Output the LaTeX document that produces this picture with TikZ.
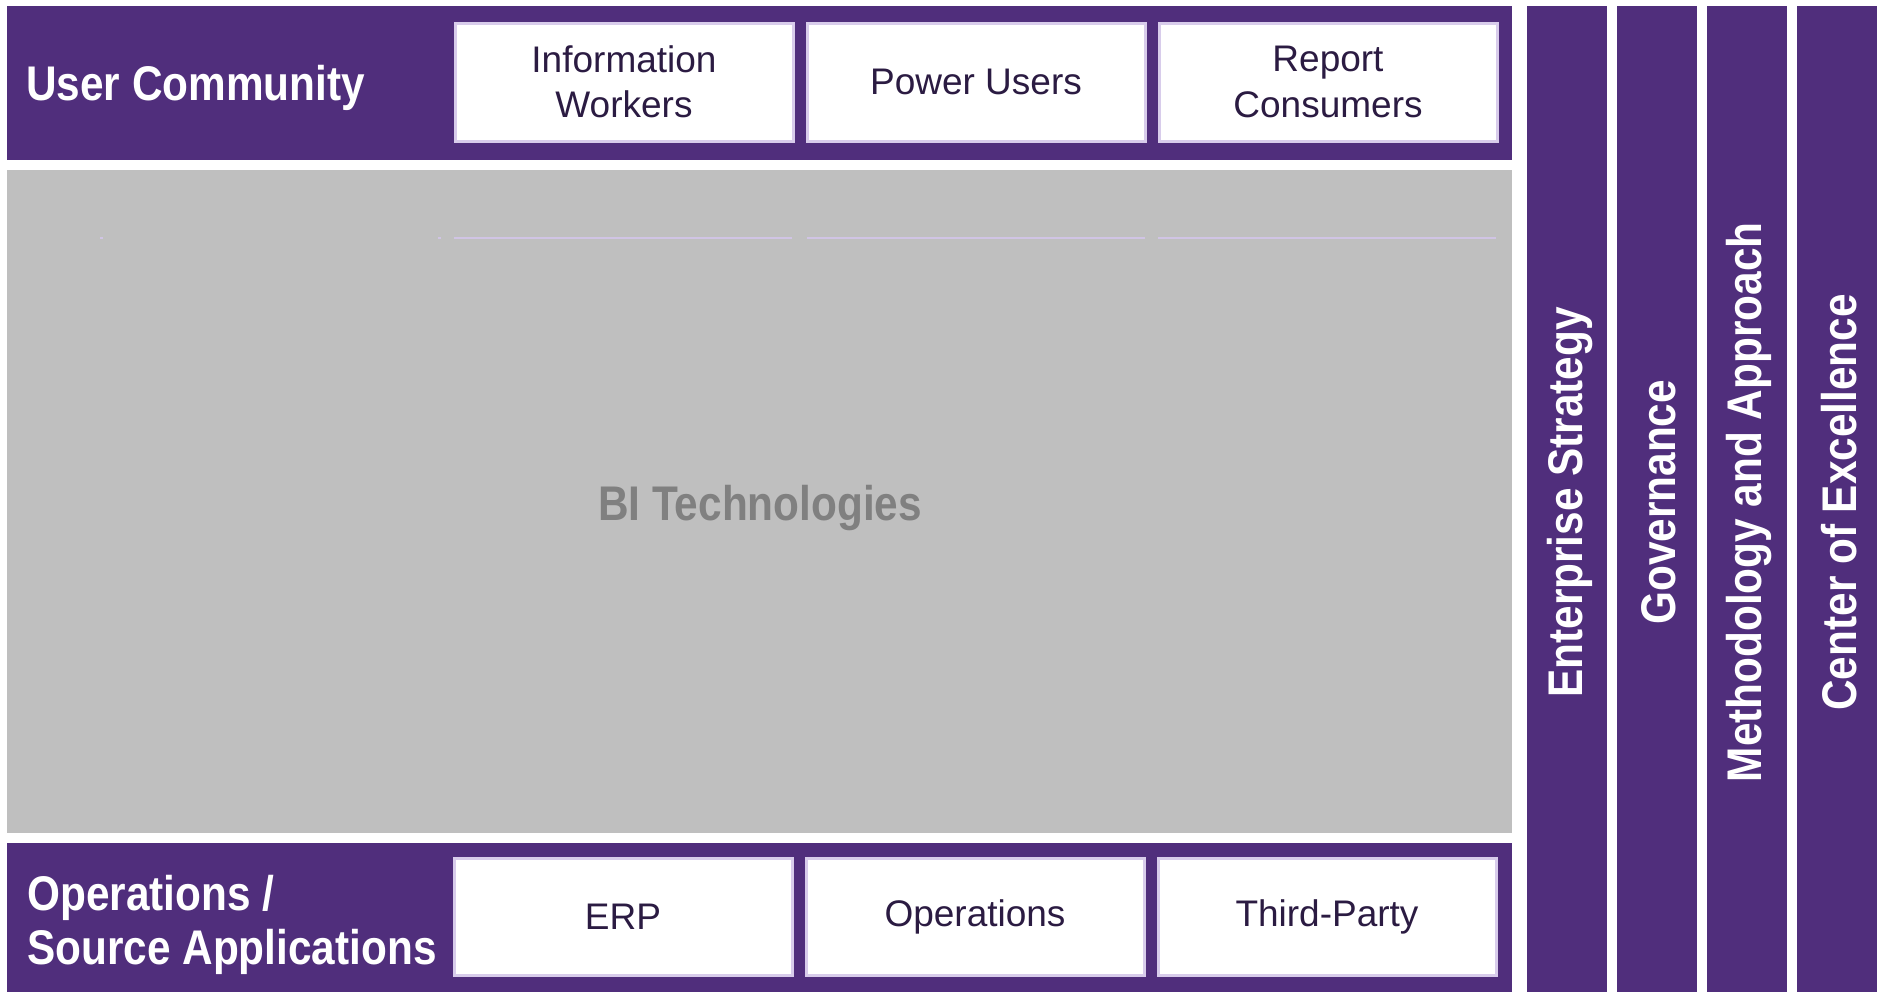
\documentclass[tikz,border=0pt]{standalone}
\usepackage{fontspec}
\setmainfont{Liberation Sans}
\newfontfamily\headfont[FakeStretch=0.87]{Liberation Sans Bold}
\definecolor{gtpurple}{RGB}{80,46,124}
\definecolor{bigray}{RGB}{191,191,191}
\definecolor{bitext}{RGB}{128,128,128}
\definecolor{boxline}{RGB}{216,204,235}
\definecolor{boxtext}{RGB}{43,27,66}
\definecolor{hairline}{RGB}{208,196,228}
\begin{document}
\begin{tikzpicture}[x=0.75pt,y=-0.75pt,
  band/.style={fill=gtpurple,draw=none,inner sep=0pt,outer sep=0pt,anchor=north west,minimum width=1128.75pt},
  pillar/.style={fill=gtpurple,draw=none,inner sep=0pt,outer sep=0pt,anchor=north west,minimum width=60pt,minimum height=739.5pt},
  userbox/.style={fill=white,draw=boxline,line width=2.25pt,inner sep=0pt,outer sep=0pt,anchor=north west,minimum width=253.5pt,minimum height=88.5pt,align=center,text=boxtext,font=\fontsize{27.75}{34}\selectfont},
  srcbox/.style={userbox,minimum height=87.75pt},
  headtext/.style={text=white,inner sep=0pt,anchor=west,align=left,font=\headfont\fontsize{36.5}{40}\selectfont},
  pillartext/.style={text=white,inner sep=0pt,rotate=90,font=\headfont\fontsize{36.5}{40}\selectfont},
  hair/.style={draw=hairline,line width=1.2pt}
]
\useasboundingbox (0,0) rectangle (1883,992);
\fill[white] (0,0) rectangle (1883,992);

% bands
\node[band,minimum height=115.5pt] (top) at (7,6) {};
\node[fill=bigray,draw=none,inner sep=0pt,outer sep=0pt,anchor=north west,minimum width=1128.75pt,minimum height=497.25pt] (gray) at (7,170) {};
\node[band,minimum height=111.75pt] (bottom) at (7,843) {};

% faint remnant lines in the gray area
\coordinate (h1a) at (454,238); \coordinate (h1b) at (792,238);
\coordinate (h2a) at (807,238); \coordinate (h2b) at (1145,238);
\coordinate (h3a) at (1158,238); \coordinate (h3b) at (1496,238);
\coordinate (d1a) at (100,238); \coordinate (d1b) at (103,238);
\coordinate (d2a) at (438,238); \coordinate (d2b) at (441,238);
\draw[hair] (h1a) -- (h1b);
\draw[hair] (h2a) -- (h2b);
\draw[hair] (h3a) -- (h3b);
\draw[hair] (d1a) -- (d1b);
\draw[hair] (d2a) -- (d2b);

% labels
\node[headtext] (uc) at (26,88) {User Community};
\node[headtext] (ops) at (27,925) {Operations /\\Source Applications};
\node[text=bitext,inner sep=0pt,font=\headfont\fontsize{36.5}{40}\selectfont] (bi) at (760,508) {BI Technologies};

% user boxes
\node[userbox] (iw) at (455,23) {Information\\Workers};
\node[userbox] (pu) at (807,23) {Power Users};
\node[userbox] (rc) at (1159,23) {Report\\Consumers};

% source boxes
\node[srcbox] (erp) at (454,858) {ERP};
\node[srcbox] (op) at (806,858) {Operations};
\node[srcbox] (tp) at (1158,858) {Third-Party};

% pillars
\node[pillar] (p1) at (1527,6) {};
\node[pillar] (p2) at (1617,6) {};
\node[pillar] (p3) at (1707,6) {};
\node[pillar] (p4) at (1797,6) {};
\node[pillartext] (t1) at ([xshift=2.5pt,yshift=-2.5pt]p1.center) {Enterprise Strategy};
\node[pillartext] (t2) at ([xshift=1.5pt,yshift=-2.5pt]p2.center) {Governance};
\node[pillartext] (t3) at ([xshift=1.5pt,yshift=-2.5pt]p3.center) {Methodology and Approach};
\node[pillartext] (t4) at ([xshift=1.5pt,yshift=-2.5pt]p4.center) {Center of Excellence};
\end{tikzpicture}
\end{document}
